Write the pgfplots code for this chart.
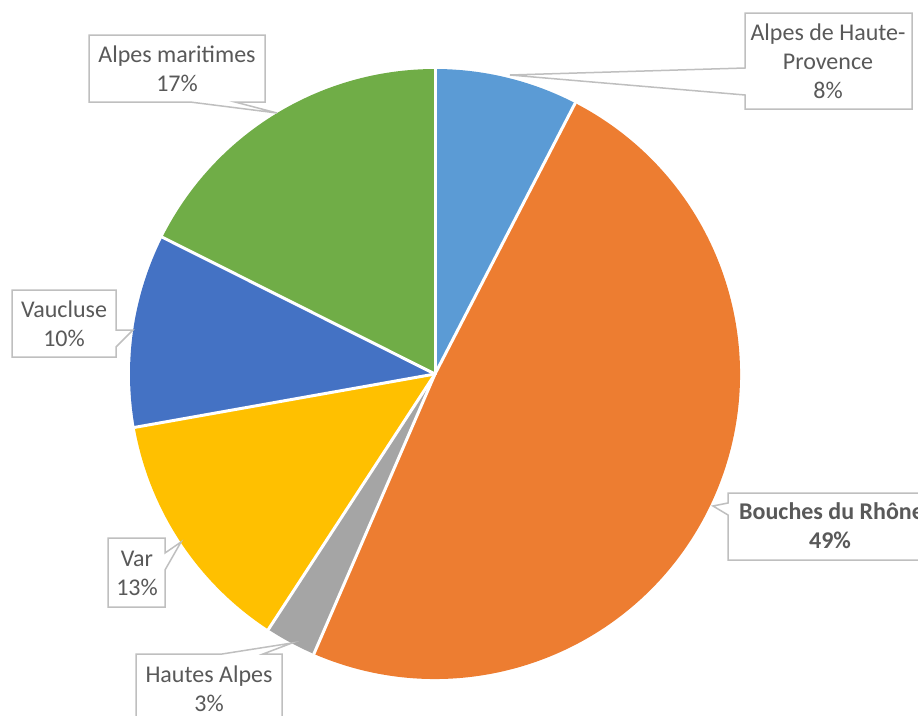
\documentclass[border=0pt]{standalone}
\usepackage{pgfplots}
\pgfplotsset{compat=1.18}
\usepackage{pgfplotstable}
\usepackage{fontspec}
\setmainfont{Carlito}
\definecolor{cA}{HTML}{5B9BD5}
\definecolor{cB}{HTML}{ED7D31}
\definecolor{cC}{HTML}{A5A5A5}
\definecolor{cD}{HTML}{FFC000}
\definecolor{cE}{HTML}{4472C4}
\definecolor{cF}{HTML}{70AD47}
\definecolor{txt}{HTML}{595959}
\definecolor{bord}{HTML}{BFBFBF}
% share of each departement (percent), clockwise from 12 o'clock
\pgfplotstableread{
value col
7.6  cA
48.9 cB
2.7  cC
13.0 cD
10.2 cE
17.6 cF
}\piedata
\begin{document}
\begin{tikzpicture}
\path[use as bounding box] (0,0) rectangle (918pt,715pt);
\clip (0,0) rectangle (918pt,715pt);
\begin{axis}[at={(0,0)},anchor=south west,width=918pt,height=715pt,scale only axis,hide axis,
  xmin=0,xmax=918,ymin=0,ymax=715,y dir=reverse,clip=false]
\pgfplotstablegetrowsof{\piedata}
\pgfmathtruncatemacro\N{\pgfplotsretval-1}
\xdef\startang{90}
\pgfplotsforeachungrouped \i in {0,...,\N}{%
  \pgfplotstablegetelem{\i}{value}\of\piedata \let\v\pgfplotsretval
  \pgfplotstablegetelem{\i}{col}\of\piedata \let\c\pgfplotsretval
  \pgfmathsetmacro\endang{\startang-3.6*\v}
  \edef\temp{\noexpand\fill[\c] (axis cs:435,374) -- ++(\startang:305pt) arc[start angle=\startang, end angle=\endang, radius=305pt] -- cycle;}
  \temp
  \xdef\startang{\endang}
}
\xdef\startang{90}
\pgfplotsforeachungrouped \i in {0,...,\N}{%
  \pgfplotstablegetelem{\i}{value}\of\piedata \let\v\pgfplotsretval
  \pgfmathsetmacro\endang{\startang-3.6*\v}
  \edef\temp{\noexpand\draw[white,line width=3pt,line cap=round] (axis cs:435,374) -- ++(\startang:305pt);}
  \temp
  \xdef\startang{\endang}
}
\tikzset{callout/.style={fill=white,draw=bord,line width=1.5pt,line join=miter},
  lab/.style={text=txt,align=center,font=\fontsize{24}{29}\selectfont}}
% Alpes de Haute-Provence
\filldraw[callout] (axis cs:745,13) -- (axis cs:912,13) -- (axis cs:912,109) -- (axis cs:745,109) -- (axis cs:745,95) -- (axis cs:510,75) -- (axis cs:745,68) -- cycle;
\node[lab] at (axis cs:828,61) {Alpes de Haute-\\Provence\\8\%};
% Bouches du Rhone
\filldraw[callout] (axis cs:728,493) -- (axis cs:940,493) -- (axis cs:940,560) -- (axis cs:728,560) -- (axis cs:728,515) -- (axis cs:713,506) -- (axis cs:728,503) -- cycle;
\node[lab,font=\fontsize{24}{29}\selectfont\bfseries,anchor=base west,inner sep=0pt] at (axis cs:739,519) {Bouches du Rhône};
\node[lab,font=\fontsize{24}{29}\selectfont\bfseries,anchor=base,inner sep=0pt] at (axis cs:830,548) {49\%};
% Hautes Alpes
\filldraw[callout] (axis cs:136,654) -- (axis cs:222,654) -- (axis cs:292,643) -- (axis cs:263,654) -- (axis cs:282,654) -- (axis cs:282,740) -- (axis cs:136,740) -- cycle;
\node[lab] at (axis cs:209,689) {Hautes Alpes\\3\%};
% Var
\filldraw[callout] (axis cs:108,538) -- (axis cs:165,538) -- (axis cs:165,553) -- (axis cs:181,542) -- (axis cs:165,570) -- (axis cs:165,607) -- (axis cs:108,607) -- cycle;
\node[lab] at (axis cs:137,573) {Var\\13\%};
% Vaucluse
\filldraw[callout] (axis cs:12,290) -- (axis cs:116,290) -- (axis cs:116,330) -- (axis cs:133,330) -- (axis cs:116,347) -- (axis cs:116,357) -- (axis cs:12,357) -- cycle;
\node[lab] at (axis cs:64,324) {Vaucluse\\10\%};
% Alpes maritimes
\filldraw[callout] (axis cs:89,35) -- (axis cs:265,35) -- (axis cs:265,102) -- (axis cs:235,102) -- (axis cs:277,113) -- (axis cs:190,102) -- (axis cs:89,102) -- cycle;
\node[lab] at (axis cs:177,69) {Alpes maritimes\\17\%};
\end{axis}
\end{tikzpicture}
\end{document}
